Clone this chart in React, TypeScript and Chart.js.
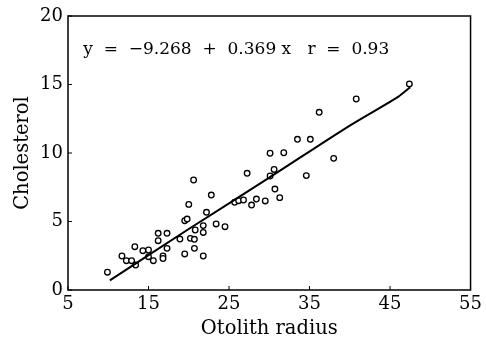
import React, { useEffect, useRef } from "react";
import { Chart, registerables } from "chart.js";

Chart.register(...registerables);

const radiusValues = [9.9, 11.7, 12.25, 12.9, 13.4, 13.3, 14.3, 15.0, 15.0, 15.6, 16.2, 16.2, 16.8, 16.8, 17.3, 17.3, 18.9, 19.5, 19.8, 20.0, 19.5, 20.2, 20.7, 20.6, 20.7, 20.8, 21.8, 21.8, 21.8, 22.2, 22.8, 23.4, 24.5, 25.7, 26.2, 26.8, 27.25, 27.8, 28.4, 29.5, 30.1, 30.1, 30.6, 30.7, 31.3, 31.8, 33.5, 34.6, 35.1, 36.2, 38.0, 40.8, 47.4];
const cholesterolValues = [1.3, 2.48, 2.14, 2.14, 1.82, 3.16, 2.87, 2.92, 2.43, 2.14, 4.14, 3.6, 2.48, 2.3, 4.14, 3.04, 3.72, 5.06, 5.18, 6.25, 2.63, 3.77, 3.7, 8.03, 3.04, 4.38, 4.7, 4.2, 2.48, 5.67, 6.93, 4.82, 4.62, 6.4, 6.52, 6.57, 8.52, 6.2, 6.64, 6.5, 8.32, 9.98, 8.8, 7.37, 6.74, 10.02, 11.0, 8.35, 11.0, 12.97, 9.61, 13.94, 15.04];

const fitX = [10.2, 20, 30, 40, 46, 47.5];
const fitY = [0.7, 4.45, 8.2, 12.0, 14.1, 14.8];

const xTicks = [5, 15, 25, 35, 45, 55];
const yTicks = [0, 5, 10, 15, 20];
const equationText = "y  =  \u22129.268  +  0.369 x   r  =  0.93";
const xTitle = "Otolith radius";
const yTitle = "Cholesterol";

const SERIF = "'DejaVu Serif', 'Liberation Serif', serif";

export default function App() {
  const ref = useRef<HTMLCanvasElement | null>(null);
  useEffect(() => {
    document.body.style.margin = "0";
    const canvas = ref.current!;
    const framePlugin = {
      id: "frame",
      afterDraw(chart: any) {
        const { ctx, chartArea: a, scales } = chart;
        ctx.save();
        ctx.strokeStyle = "#000";
        ctx.lineWidth = 1.5;
        ctx.strokeRect(a.left, a.top, a.right - a.left, a.bottom - a.top);
        ctx.lineWidth = 1;
        xTicks.forEach((v) => {
          const px = scales.x.getPixelForValue(v);
          ctx.beginPath();
          ctx.moveTo(px, a.bottom);
          ctx.lineTo(px, a.bottom - 4);
          ctx.stroke();
        });
        yTicks.forEach((v) => {
          const py = scales.y.getPixelForValue(v);
          ctx.beginPath();
          ctx.moveTo(a.left, py);
          ctx.lineTo(a.left + 4, py);
          ctx.stroke();
        });
        ctx.fillStyle = "#000";
        ctx.font = "17px " + SERIF;
        ctx.textAlign = "left";
        ctx.textBaseline = "alphabetic";
        ctx.fillText(equationText, scales.x.getPixelForValue(6.9), scales.y.getPixelForValue(17.25));
        ctx.restore();
      },
    };
    const chart = new Chart(canvas, {
      type: "scatter",
      data: {
        datasets: [
          {
            label: "fit",
            type: "line",
            data: fitX.map((x, i) => ({ x, y: fitY[i] })),
            borderColor: "#000",
            borderWidth: 2,
            pointRadius: 0,
            tension: 0.3,
            fill: false,
          } as any,
          {
            label: "data",
            data: radiusValues.map((x, i) => ({ x, y: cholesterolValues[i] })),
            pointRadius: 2.8,
            pointBorderWidth: 1.3,
            pointBorderColor: "#000",
            pointBackgroundColor: "#fff",
          },
        ],
      },
      options: {
        animation: false,
        responsive: false,
        layout: { padding: { top: 16, right: 11, left: 0, bottom: 0 } },
        plugins: { legend: { display: false }, tooltip: { enabled: false } },
        scales: {
          x: {
            type: "linear",
            min: 5,
            max: 55,
            afterBuildTicks: (s: any) => {
              s.ticks = xTicks.map((v) => ({ value: v }));
            },
            afterFit: (s: any) => {
              s.height = 55;
            },
            grid: { display: false, drawTicks: false },
            border: { display: false },
            ticks: { color: "#000", font: { family: SERIF, size: 18 }, padding: 4 },
            title: { display: true, text: xTitle, color: "#000", font: { family: SERIF, size: 19.5 }, padding: { top: 5 } },
          },
          y: {
            type: "linear",
            min: 0,
            max: 20,
            afterBuildTicks: (s: any) => {
              s.ticks = yTicks.map((v) => ({ value: v }));
            },
            afterFit: (s: any) => {
              s.width = 68;
            },
            grid: { display: false, drawTicks: false },
            border: { display: false },
            ticks: { color: "#000", font: { family: SERIF, size: 18 }, padding: 5 },
            title: { display: true, text: yTitle, color: "#000", font: { family: SERIF, size: 19.5 }, padding: { bottom: 0, top: 11 } },
          },
        },
      } as any,
      plugins: [framePlugin],
    });
    return () => chart.destroy();
  }, []);
  return (
    <div style={{ position: "absolute", left: 0, top: 0, width: 486, height: 345, background: "#fff" }}>
      <canvas ref={ref} width={486} height={345} style={{ width: 486, height: 345 }} />
    </div>
  );
}
